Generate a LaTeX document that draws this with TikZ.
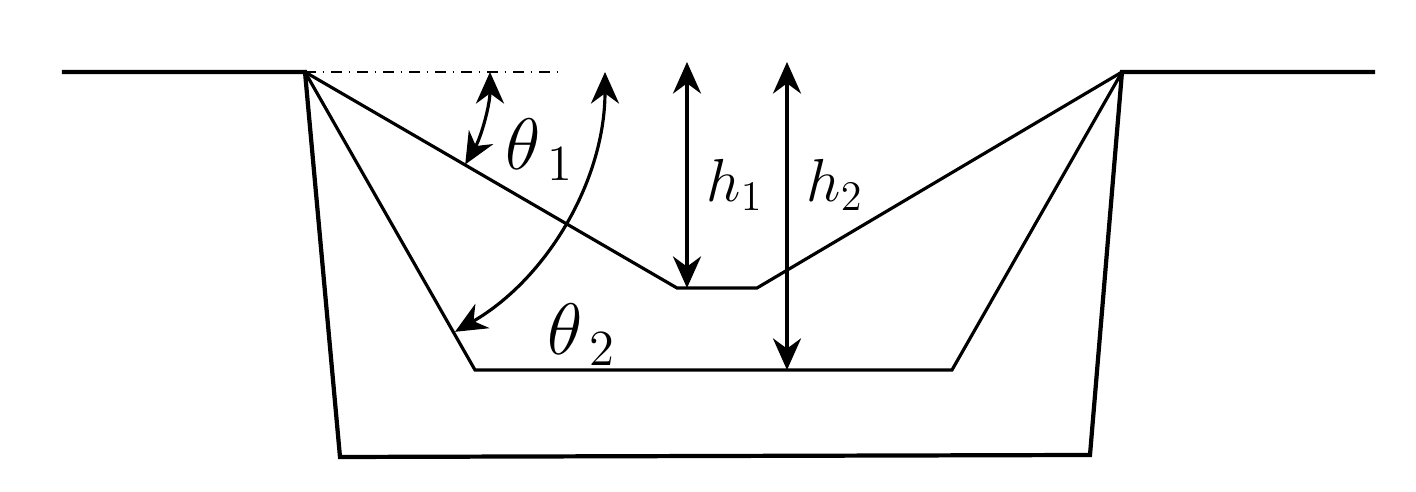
\documentclass[tikz,border=0pt]{standalone}
\usetikzlibrary{arrows.meta}
\begin{document}
\begin{tikzpicture}[x=1cm,y=-1cm,
    thickline/.style={line width=1.2pt},
    thinline/.style={line width=0.9pt},
    dim/.style={line width=0.9pt,{Stealth[length=9pt,width=8pt]}-{Stealth[length=9pt,width=8pt]}},
    lab/.style={font=\fontsize{17}{20}\selectfont},
    biglab/.style={font=\fontsize{22}{26}\selectfont}]
  \useasboundingbox (0,0) rectangle (14.16,4.92);
  % corners
  \coordinate (tl) at (3.05,0.72);
  \coordinate (tr) at (11.22,0.72);
  \coordinate (ol) at (0.62,0.72);
  \coordinate (or) at (13.75,0.72);
  \coordinate (bl) at (3.40,4.57);
  \coordinate (br) at (10.90,4.55);
  \coordinate (ml) at (4.75,3.70);
  \coordinate (mr) at (9.52,3.70);
  \coordinate (sl) at (6.77,2.88);
  \coordinate (sr) at (7.57,2.88);
  % ground and outer cut
  \draw[thickline] (ol) -- (tl) -- (bl) -- (br) -- (tr) -- (or);
  % inner profiles
  \draw[thinline] (tl) -- (ml) -- (mr) -- (tr);
  \draw[thinline] (tl) -- (sl) -- (sr) -- (tr);
  \draw[thin,dash dot] (tl) -- (5.60,0.72);
  % angles
  \draw[dim] (tl) ++(0:1.85) arc[start angle=0,end angle=30,radius=1.85];
  \draw[dim] (tl) ++(0:3.0) arc[start angle=0,end angle=60,radius=3.0];
  \node[biglab] (t1) at (5.40,1.50) {$\theta_{\,1}$};
  \node[biglab] (t2) at (5.82,3.35) {$\theta_{\,2}$};
  % depths
  \coordinate (h1t) at (6.87,0.62);
  \coordinate (h1b) at (6.87,2.88);
  \coordinate (h2t) at (7.87,0.62);
  \coordinate (h2b) at (7.87,3.70);
  \draw[dim] (h1t) -- (h1b);
  \draw[dim] (h2t) -- (h2b);
  \node[lab] (l1) at (7.35,1.85) {$h_1$};
  \node[lab] (l2) at (8.35,1.85) {$h_2$};
\end{tikzpicture}
\end{document}
